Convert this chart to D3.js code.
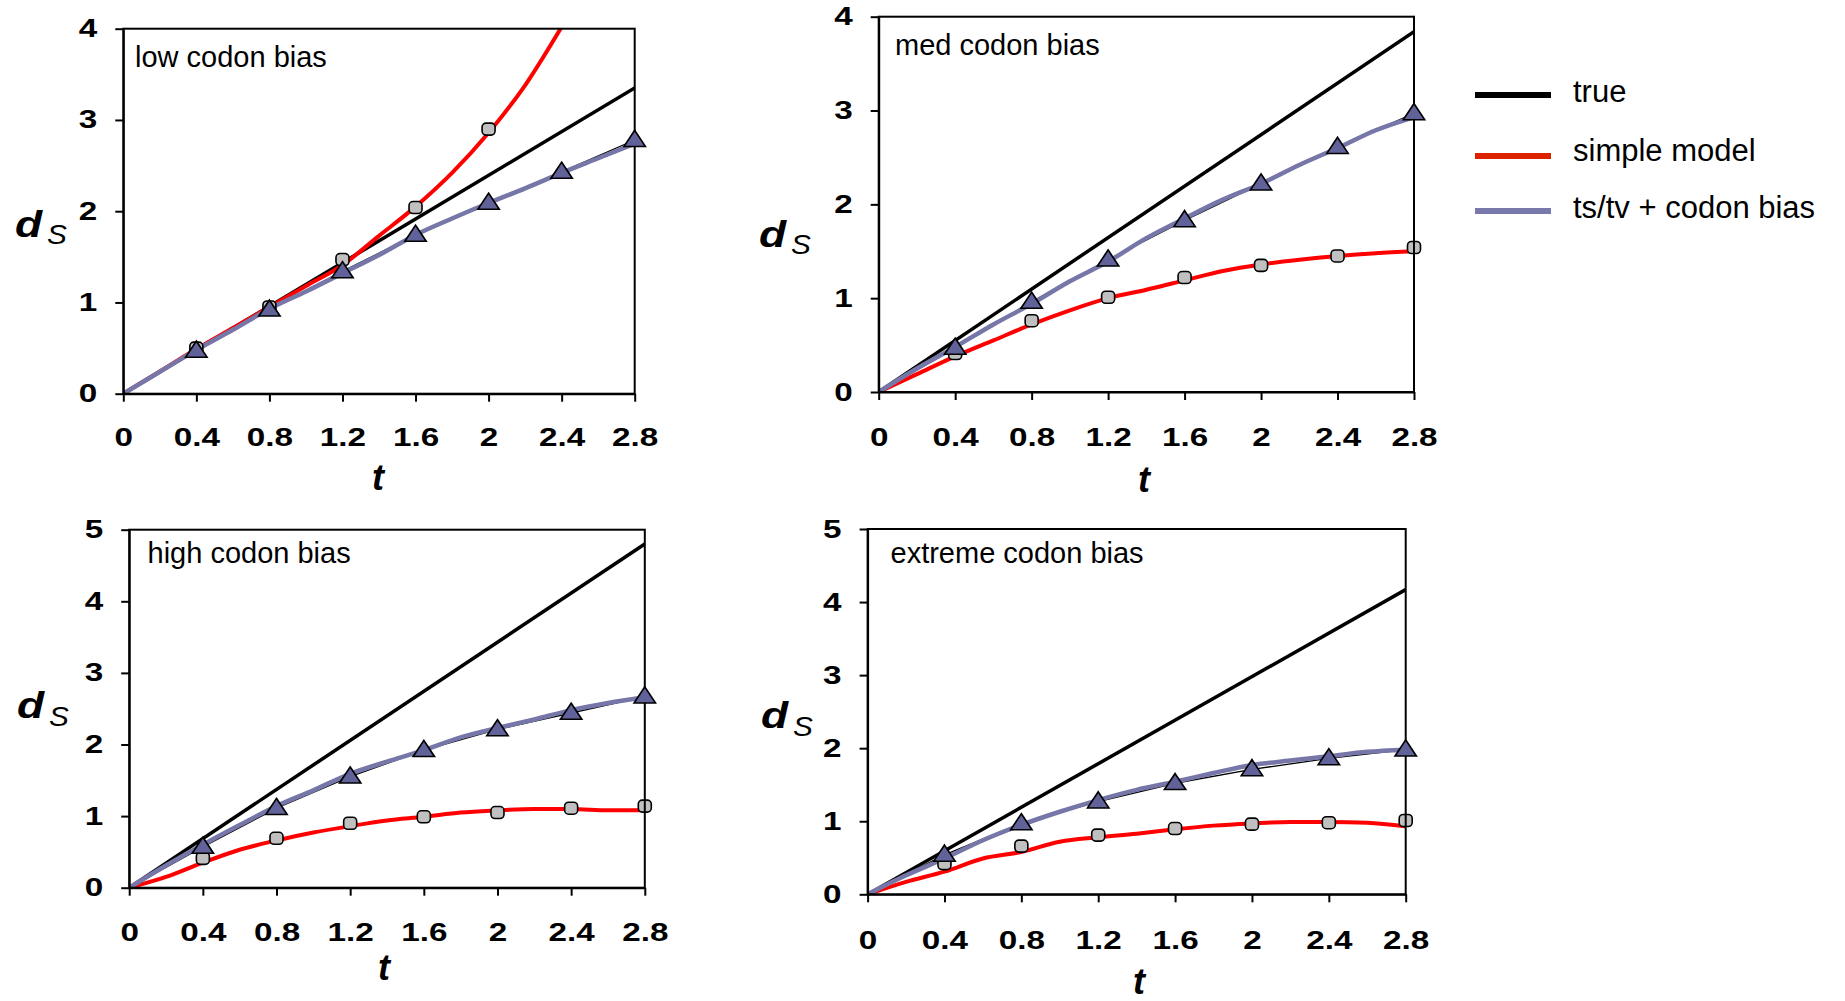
<!DOCTYPE html>
<html>
<head>
<meta charset="utf-8">
<script src="https://cdn.jsdelivr.net/npm/d3@7"></script>
<style>
  body { margin: 0; background: #fff; }
  svg { display: block; font-family: "Liberation Sans", Arial, sans-serif; }
</style>
</head>
<body>
<script>
// ______________________________ data ______________________________

const tTicks = [0, 0.4, 0.8, 1.2, 1.6, 2, 2.4, 2.8];
const tLine  = [0, 0.2, 0.4, 0.6, 0.8, 1.0, 1.2, 1.4, 1.6, 1.8, 2.0, 2.2, 2.4, 2.6, 2.8];
const tPts   = [0.4, 0.8, 1.2, 1.6, 2.0, 2.4, 2.8];
const tTrue  = [0, 2.8];

const panelTitles = ["low codon bias", "med codon bias", "high codon bias", "extreme codon bias"];
const yTicks4 = [0, 1, 2, 3, 4];
const yTicks5 = [0, 1, 2, 3, 4, 5];
const legendLabels = ["true", "simple model", "ts/tv + codon bias"];

// low
const trueLow      = [0, 3.35];
const simpleLow    = [0, 0.245, 0.49, 0.72, 0.95, 1.18, 1.41, 1.73, 2.05, 2.42, 2.86, 3.38, 4.02, null, null];
const tstvLow      = [0, 0.24, 0.48, 0.70, 0.93, 1.12, 1.32, 1.52, 1.74, 1.92, 2.09, 2.25, 2.42, 2.58, 2.74];
const simpleLowPts = [0.50, 0.95, 1.47, 2.04, 2.90, null, null];
const tstvLowPts   = [0.47, 0.92, 1.34, 1.74, 2.09, 2.43, 2.78];

// med
const trueMed      = [0, 3.84];
const simpleMed    = [0, 0.19, 0.38, 0.55, 0.72, 0.87, 1.00, 1.09, 1.19, 1.29, 1.36, 1.41, 1.45, 1.48, 1.50];
const tstvMed      = [0, 0.25, 0.48, 0.72, 0.94, 1.18, 1.39, 1.64, 1.85, 2.05, 2.22, 2.42, 2.60, 2.79, 2.93];
const simpleMedPts = [0.41, 0.76, 1.01, 1.22, 1.35, 1.45, 1.54];
const tstvMedPts   = [0.47, 0.96, 1.41, 1.83, 2.22, 2.61, 2.97];

// high
const trueHigh      = [0, 4.80];
const simpleHigh    = [0, 0.15, 0.35, 0.53, 0.66, 0.77, 0.86, 0.94, 0.99, 1.05, 1.08, 1.10, 1.10, 1.08, 1.08];
const tstvHigh      = [0, 0.31, 0.60, 0.875, 1.14, 1.36, 1.59, 1.76, 1.92, 2.10, 2.23, 2.35, 2.48, 2.58, 2.66];
const simpleHighPts = [0.41, 0.69, 0.90, 0.99, 1.05, 1.11, 1.14];
const tstvHighPts   = [0.57, 1.11, 1.55, 1.92, 2.21, 2.44, 2.67];

// extreme
const trueExt      = [0, 4.17];
const simpleExt    = [0, 0.17, 0.31, 0.49, 0.58, 0.72, 0.78, 0.83, 0.89, 0.94, 0.97, 0.99, 0.99, 0.98, 0.93];
const tstvExt      = [0, 0.26, 0.49, 0.74, 0.95, 1.13, 1.29, 1.43, 1.54, 1.66, 1.77, 1.83, 1.89, 1.95, 1.98];
const simpleExtPts = [0.42, 0.66, 0.81, 0.90, 0.96, 0.98, 1.01];
const tstvExtPts   = [0.54, 0.97, 1.27, 1.52, 1.71, 1.86, 1.98];

// ______________________________ layout ______________________________

const RED = "#ff0000";
const SLATE = "#7676a8";
const TRI = "#62629a";
const SQ = "#c0c0c0";
const SX = 1.33;   // tick labels in the figure are stretched sideways

const panels = [
  {title: panelTitles[0], yMax: 4, yTicks: yTicks4, tru: trueLow, simple: simpleLow, tstv: tstvLow, simplePts: simpleLowPts, tstvPts: tstvLowPts,
   left: 123.3, right: 634.7, top: 28.7, bottom: 393.7, titleX: 135, titleY: 67, dX: 15, dY: 237, sY: 244, tX: 378, tY: 490, labY: 446},
  {title: panelTitles[1], yMax: 4, yTicks: yTicks4, tru: trueMed, simple: simpleMed, tstv: tstvMed, simplePts: simpleMedPts, tstvPts: tstvMedPts,
   left: 878.7, right: 1414, top: 16.7, bottom: 392, titleX: 895, titleY: 55, dX: 759, dY: 247, sY: 254, tX: 1144, tY: 492, labY: 446},
  {title: panelTitles[2], yMax: 5, yTicks: yTicks5, tru: trueHigh, simple: simpleHigh, tstv: tstvHigh, simplePts: simpleHighPts, tstvPts: tstvHighPts,
   left: 129.2, right: 644.8, top: 529.7, bottom: 887.7, titleX: 147.5, titleY: 563, dX: 17, dY: 718, sY: 726, tX: 384, tY: 980, labY: 941},
  {title: panelTitles[3], yMax: 5, yTicks: yTicks5, tru: trueExt, simple: simpleExt, tstv: tstvExt, simplePts: simpleExtPts, tstvPts: tstvExtPts,
   left: 867.6, right: 1405.7, top: 529, bottom: 894.3, titleX: 890.5, titleY: 563, dX: 761, dY: 728, sY: 736, tX: 1139, tY: 994, labY: 949}
];

const svg = d3.select("body").append("svg")
    .attr("width", 1845)
    .attr("height", 1001);

svg.append("rect").attr("width", 1845).attr("height", 1001).attr("fill", "#fff");

function pairs(ts, vs){
    return ts.map((t, i) => [t, vs[i]]);
}

function drawPanel(p, k){
    const x = d3.scaleLinear().domain([0, 2.8]).range([p.left, p.right]);
    const y = d3.scaleLinear().domain([0, p.yMax]).range([p.bottom, p.top]);

    const g = svg.append("g");

    g.append("clipPath").attr("id", "clip" + k)
      .append("rect")
        .attr("x", p.left).attr("y", p.top)
        .attr("width", p.right - p.left).attr("height", p.bottom - p.top);

    const line = d3.line()
        .defined(d => d[1] != null)
        .x(d => x(d[0]))
        .y(d => y(d[1]));

    const plot = g.append("g").attr("clip-path", `url(#clip${k})`);

    // true
    plot.append("path")
        .attr("d", line.curve(d3.curveLinear)(pairs(tTrue, p.tru)))
        .attr("fill", "none").attr("stroke", "#000").attr("stroke-width", 3.5);

    // thin connector of the ts/tv estimates
    plot.append("path")
        .attr("d", line.curve(d3.curveLinear)(pairs([0].concat(tPts), [0].concat(p.tstvPts))))
        .attr("fill", "none").attr("stroke", "#000").attr("stroke-width", 1.3);

    // simple model estimates
    g.append("g").selectAll("rect")
        .data(pairs(tPts, p.simplePts).filter(d => d[1] != null))
        .join("rect")
          .attr("x", d => x(d[0]) - 6.5)
          .attr("y", d => y(d[1]) - 6)
          .attr("width", 13).attr("height", 12)
          .attr("rx", 4)
          .attr("fill", SQ).attr("stroke", "#000").attr("stroke-width", 1.6);

    plot.append("path")
        .attr("d", line.curve(d3.curveMonotoneX)(pairs(tLine, p.simple)))
        .attr("fill", "none").attr("stroke", RED).attr("stroke-width", 4);

    plot.append("path")
        .attr("d", line.curve(d3.curveMonotoneX)(pairs(tLine, p.tstv)))
        .attr("fill", "none").attr("stroke", SLATE).attr("stroke-width", 4.5);

    // axes
    const yAxis = g.append("g")
        .attr("transform", `translate(${p.left},0)`)
        .call(d3.axisLeft(y).tickValues(p.yTicks).tickSize(8).tickSizeOuter(0).tickFormat(d3.format("d")));
    yAxis.selectAll("text")
        .attr("x", -26 / SX)
        .attr("transform", `scale(${SX},1)`);

    const xAxis = g.append("g")
        .attr("transform", `translate(0,${p.bottom})`)
        .call(d3.axisBottom(x).tickValues(tTicks).tickSize(8).tickSizeOuter(0).tickFormat(d => String(d)));
    xAxis.selectAll("text")
        .attr("y", p.labY - p.bottom)
        .attr("dy", 0)
        .attr("transform", `scale(${SX},1)`);

    [yAxis, xAxis].forEach(a => {
        a.attr("font-family", null).attr("font-size", 25).attr("font-weight", "bold");
        a.selectAll("line").attr("stroke-width", 2);
        a.select(".domain").attr("stroke-width", 2);
        a.selectAll("text").attr("fill", "#000");
    });

    g.append("rect")
        .attr("x", p.left).attr("y", p.top)
        .attr("width", p.right - p.left).attr("height", p.bottom - p.top)
        .attr("fill", "none").attr("stroke", "#000").attr("stroke-width", 2);

    // ts/tv estimates
    const tri = d3.symbol().type(d3.symbolTriangle).size(150);
    g.append("g").selectAll("path")
        .data(pairs(tPts, p.tstvPts))
        .join("path")
          .attr("d", tri)
          .attr("transform", d => `translate(${x(d[0])},${y(d[1]) + 1}) scale(1.15,1)`)
          .attr("fill", TRI).attr("stroke", "#000").attr("stroke-width", 1.5);

    // texts
    g.append("text")
        .attr("x", p.titleX).attr("y", p.titleY)
        .attr("font-size", 29)
        .text(p.title);

    g.append("text")
        .attr("transform", `translate(${p.dX},${p.dY}) scale(1.2,1)`)
        .attr("font-size", 37).attr("font-weight", "bold").attr("font-style", "italic")
        .text("d");
    g.append("text")
        .attr("transform", `translate(${p.dX + 32},${p.sY}) scale(1.1,1)`)
        .attr("font-size", 27).attr("font-style", "italic")
        .text("S");

    g.append("text")
        .attr("x", p.tX).attr("y", p.tY)
        .attr("text-anchor", "middle")
        .attr("font-size", 36).attr("font-weight", "bold").attr("font-style", "italic")
        .text("t");
}

panels.forEach(drawPanel);

// ______________________________ legend ______________________________

const legendColors = ["#000000", "#dd2200", "#7878aa"];
const legendRows = [95, 156, 211];

const legend = svg.append("g");
legendLabels.forEach((lab, i) => {
    legend.append("line")
        .attr("x1", 1475).attr("x2", 1551)
        .attr("y1", legendRows[i]).attr("y2", legendRows[i])
        .attr("stroke", legendColors[i]).attr("stroke-width", 6);
    legend.append("text")
        .attr("x", 1573).attr("y", legendRows[i] + 7 + (i == 1 ? -2 : 0))
        .attr("font-size", 31)
        .text(lab);
});
</script>
</body>
</html>
